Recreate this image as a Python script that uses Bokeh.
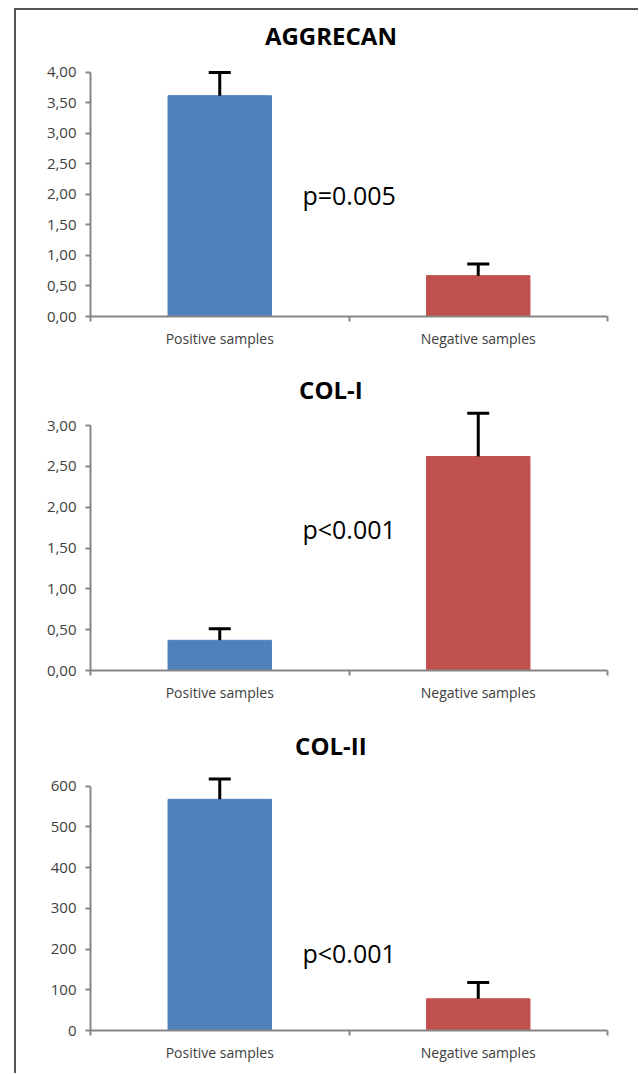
from bokeh.plotting import figure
from bokeh.models import (ColumnDataSource, Whisker, TeeHead, FixedTicker, Range1d,
                          CustomJSTickFormatter, Label)
from bokeh.layouts import column
from bokeh.embed import file_html
from bokeh.resources import INLINE

# ---- data ----
categories = ["Positive samples", "Negative samples"]
colors = ["#4F81BD", "#C0504D"]

titles = ["AGGRECAN", "COL-I", "COL-II"]
pvalues = ["p=0.005", "p<0.001", "p<0.001"]

aggrecan_mean = [3.62, 0.67]
aggrecan_err = [0.38, 0.19]

col1_mean = [0.37, 2.62]
col1_err = [0.14, 0.53]

col2_mean = [568, 78]
col2_err = [50, 40]

aggrecan_ticks = [0, 0.5, 1, 1.5, 2, 2.5, 3, 3.5, 4]
col1_ticks = [0, 0.5, 1, 1.5, 2, 2.5, 3]
col2_ticks = [0, 100, 200, 300, 400, 500, 600]

FONT = "Open Sans"
AXIS_COLOR = "#868686"
TEXT_COLOR = "#404040"


def panel(title, title_y, means, errs, ticks, decimals, y_end, ptext, p_y,
          height, b_bottom, b_right):
    p = figure(width=616, height=height, output_backend="svg", toolbar_location=None,
               x_range=Range1d(0, len(categories)), y_range=Range1d(0, y_end),
               min_border_left=74, min_border_right=b_right,
               min_border_top=5, min_border_bottom=b_bottom)
    p.outline_line_color = None
    p.xgrid.visible = False
    p.ygrid.visible = False

    xs = [i + 0.5 for i in range(len(categories))]
    src = ColumnDataSource(dict(x=xs, top=means, upper=[m + e for m, e in zip(means, errs)],
                                color=colors, cat=categories))
    p.vbar(x="x", top="top", width=0.4, bottom=0, color="color", source=src)
    w = Whisker(base="x", lower="top", upper="upper", source=src,
                line_color="black", line_width=3,
                upper_head=TeeHead(size=22, line_color="black", line_width=3),
                lower_head=None, level="annotation")
    p.add_layout(w)

    # x axis
    xa = p.xaxis[0]
    xa.ticker = FixedTicker(ticks=xs, minor_ticks=list(range(len(categories) + 1)))
    xa.major_label_overrides = {x: c for x, c in zip(xs, categories)}
    xa.major_tick_line_color = None
    xa.minor_tick_out = 5
    xa.minor_tick_in = 0
    xa.minor_tick_line_color = AXIS_COLOR
    xa.minor_tick_line_width = 2
    xa.axis_line_color = AXIS_COLOR
    xa.axis_line_width = 2
    xa.major_label_text_font = FONT
    xa.major_label_text_font_size = "14px"
    xa.major_label_text_color = TEXT_COLOR
    xa.major_label_standoff = 6

    # y axis
    ya = p.yaxis[0]
    ya.bounds = (ticks[0], ticks[-1])
    ya.ticker = FixedTicker(ticks=ticks, minor_ticks=[])
    ya.formatter = CustomJSTickFormatter(
        code="return tick.toFixed(%d).replace('.', ',');" % decimals)
    ya.major_tick_out = 5
    ya.major_tick_in = 0
    ya.major_tick_line_color = AXIS_COLOR
    ya.major_tick_line_width = 2
    ya.minor_tick_line_color = None
    ya.axis_line_color = AXIS_COLOR
    ya.axis_line_width = 2
    ya.major_label_text_font = FONT
    ya.major_label_text_font_size = "15px"
    ya.major_label_text_color = TEXT_COLOR
    ya.major_label_standoff = 9

    t = Label(x=0.93, y=title_y, text=title, text_font=FONT, text_font_size="24px",
              text_font_style="bold", text_color="black",
              text_align="center", text_baseline="middle")
    p.add_layout(t)

    lab = Label(x=0.82, y=p_y, text=ptext, text_font=FONT, text_font_size="25px",
                text_color="black", text_baseline="middle", text_align="left")
    p.add_layout(lab)
    return p


p1 = panel(titles[0], 4.61, aggrecan_mean, aggrecan_err, aggrecan_ticks, 2, 4.9344,
           pvalues[0], 1.99, 342, 36, 25)
p2 = panel(titles[1], 3.44, col1_mean, col1_err, col1_ticks, 2, 3.8327,
           pvalues[1], 1.73, 360, 42, 25)
p3 = panel(titles[2], 700, col2_mean, col2_err, col2_ticks, 0, 768.98,
           pvalues[2], 191, 352, 33, 20)

layout = column(p1, p2, p3, spacing=0,
                styles={"border-left": "2px solid #555555", "border-top": "2px solid #555555",
                        "margin-left": "14px", "margin-top": "8px",
                        "padding-bottom": "9px", "padding-right": "6px"})

open("out.html", "w").write(file_html(layout, INLINE))
